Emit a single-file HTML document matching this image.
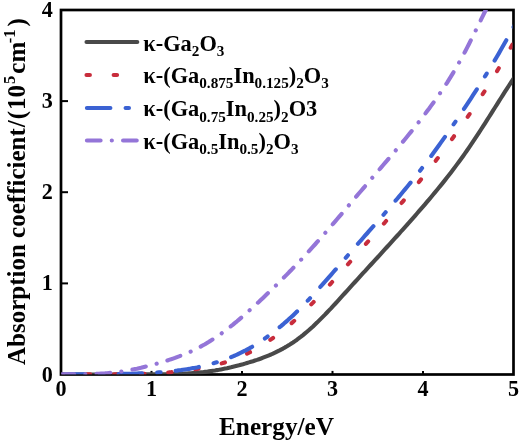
<!DOCTYPE html>
<html><head><meta charset="utf-8"><title>Absorption coefficient</title>
<style>
html,body{margin:0;padding:0;background:#fff;}
svg{display:block;font-family:"Liberation Serif",serif;font-weight:bold;fill:#000;}
.c{fill:none;stroke-width:4.1;stroke-linecap:round;stroke-linejoin:round;}
.g{stroke:#494949;}
.r{stroke:#c82d3c;stroke-dasharray:3.4 23.754;stroke-dashoffset:1.34;}
.b{stroke:#3b62d3;stroke-dasharray:23.5 15.18 3.4 15.17;stroke-dashoffset:-0.34;}
.p{stroke:#9475d8;stroke-dasharray:13.7 11.17 0.1 11.18;stroke-dashoffset:0.56;}
.lg path{stroke-dashoffset:0;}
.s{font-size:15.2px;}
.u{font-size:16.5px;}
</style></head><body>
<svg width="520" height="443" viewBox="0 0 520 443">
<rect width="520" height="443" fill="#fff"/>
<defs><clipPath id="cp"><rect x="61.4" y="10.0" width="451.1" height="364.3"/></clipPath></defs>
<rect x="61.0" y="10.0" width="452.5" height="364.5" fill="none" stroke="#000" stroke-width="2.7"/>
<g stroke="#000" stroke-width="2"><line x1="151.5" y1="374.5" x2="151.5" y2="370.9"/><line x1="242.0" y1="374.5" x2="242.0" y2="370.9"/><line x1="332.5" y1="374.5" x2="332.5" y2="370.9"/><line x1="423.0" y1="374.5" x2="423.0" y2="370.9"/><line x1="61.0" y1="283.4" x2="68.0" y2="283.4"/><line x1="61.0" y1="192.2" x2="68.0" y2="192.2"/><line x1="61.0" y1="101.1" x2="68.0" y2="101.1"/></g>
<g clip-path="url(#cp)">
<path class="c g" d="M61.0,374.5 L63.0,374.5 L65.0,374.5 L67.0,374.5 L69.0,374.5 L71.0,374.5 L73.0,374.5 L75.0,374.5 L77.0,374.5 L79.0,374.5 L81.0,374.5 L83.0,374.5 L85.0,374.5 L87.0,374.5 L89.0,374.5 L91.0,374.5 L93.0,374.5 L95.0,374.5 L97.0,374.5 L99.0,374.5 L101.0,374.5 L103.0,374.5 L105.0,374.5 L107.0,374.5 L109.0,374.5 L111.0,374.5 L113.0,374.5 L115.0,374.5 L117.0,374.4 L119.0,374.4 L121.0,374.4 L123.0,374.4 L125.0,374.4 L127.0,374.4 L129.0,374.4 L131.0,374.4 L133.0,374.3 L135.0,374.3 L137.0,374.3 L139.0,374.3 L141.0,374.3 L143.0,374.3 L145.0,374.3 L147.0,374.3 L149.0,374.3 L151.0,374.3 L153.0,374.2 L155.0,374.2 L157.0,374.2 L159.0,374.2 L161.0,374.2 L163.0,374.2 L165.0,374.2 L167.0,374.2 L169.0,374.1 L171.0,374.1 L173.0,374.0 L175.0,374.0 L177.0,373.9 L179.0,373.9 L181.0,373.8 L183.0,373.7 L185.0,373.6 L187.0,373.5 L189.0,373.4 L191.0,373.3 L193.0,373.1 L195.0,373.0 L197.0,372.8 L199.0,372.6 L201.0,372.4 L203.0,372.2 L205.0,371.9 L207.0,371.7 L209.0,371.4 L211.0,371.1 L213.0,370.8 L215.0,370.5 L217.0,370.1 L219.0,369.8 L221.0,369.4 L223.0,369.0 L225.0,368.6 L227.0,368.2 L229.0,367.7 L231.0,367.3 L233.0,366.8 L235.0,366.3 L237.0,365.8 L239.0,365.3 L241.0,364.7 L243.0,364.2 L245.0,363.6 L247.0,363.0 L249.0,362.4 L251.0,361.8 L253.0,361.2 L255.0,360.5 L257.0,359.9 L259.0,359.2 L261.0,358.5 L263.0,357.7 L265.0,356.9 L267.0,356.1 L269.0,355.3 L271.0,354.5 L273.0,353.6 L275.0,352.7 L277.0,351.7 L279.0,350.7 L281.0,349.6 L283.0,348.6 L285.0,347.4 L287.0,346.3 L289.0,345.1 L291.0,343.8 L293.0,342.5 L295.0,341.1 L297.0,339.7 L299.0,338.2 L301.0,336.7 L303.0,335.1 L305.0,333.4 L307.0,331.7 L309.0,330.0 L311.0,328.2 L313.0,326.4 L315.0,324.5 L317.0,322.6 L319.0,320.6 L321.0,318.6 L323.0,316.6 L325.0,314.6 L327.0,312.5 L329.0,310.4 L331.0,308.3 L333.0,306.1 L335.0,304.0 L337.0,301.8 L339.0,299.6 L341.0,297.4 L343.0,295.2 L345.0,293.0 L347.0,290.8 L349.0,288.6 L351.0,286.4 L353.0,284.2 L355.0,282.0 L357.0,279.8 L359.0,277.6 L361.0,275.4 L363.0,273.2 L365.0,271.1 L367.0,268.9 L369.0,266.7 L371.0,264.5 L373.0,262.3 L375.0,260.1 L377.0,258.0 L379.0,255.8 L381.0,253.6 L383.0,251.4 L385.0,249.2 L387.0,247.0 L389.0,244.8 L391.0,242.6 L393.0,240.4 L395.0,238.2 L397.0,236.0 L399.0,233.8 L401.0,231.5 L403.0,229.3 L405.0,227.1 L407.0,224.8 L409.0,222.6 L411.0,220.3 L413.0,218.1 L415.0,215.8 L417.0,213.5 L419.0,211.2 L421.0,208.9 L423.0,206.6 L425.0,204.3 L427.0,201.9 L429.0,199.6 L431.0,197.2 L433.0,194.8 L435.0,192.4 L437.0,190.0 L439.0,187.5 L441.0,185.1 L443.0,182.6 L445.0,180.1 L447.0,177.5 L449.0,175.0 L451.0,172.4 L453.0,169.8 L455.0,167.1 L457.0,164.4 L459.0,161.7 L461.0,159.0 L463.0,156.2 L465.0,153.4 L467.0,150.5 L469.0,147.6 L471.0,144.7 L473.0,141.7 L475.0,138.7 L477.0,135.7 L479.0,132.6 L481.0,129.5 L483.0,126.4 L485.0,123.3 L487.0,120.1 L489.0,117.0 L491.0,113.8 L493.0,110.6 L495.0,107.5 L497.0,104.3 L499.0,101.1 L501.0,98.0 L503.0,94.8 L505.0,91.7 L507.0,88.6 L509.0,85.5 L511.0,82.5 L513.0,79.5 L515.0,76.5 L517.0,73.6 L519.0,70.6"/>
<path class="c r" d="M61.0,374.5 L63.0,374.5 L65.0,374.5 L67.0,374.5 L69.0,374.5 L71.0,374.4 L73.0,374.4 L75.0,374.4 L77.0,374.4 L79.0,374.4 L81.0,374.4 L83.0,374.4 L85.0,374.4 L87.0,374.4 L89.0,374.4 L91.0,374.4 L93.0,374.4 L95.0,374.4 L97.0,374.4 L99.0,374.4 L101.0,374.4 L103.0,374.4 L105.0,374.4 L107.0,374.4 L109.0,374.4 L111.0,374.4 L113.0,374.4 L115.0,374.4 L117.0,374.4 L119.0,374.3 L121.0,374.3 L123.0,374.3 L125.0,374.3 L127.0,374.2 L129.0,374.2 L131.0,374.2 L133.0,374.1 L135.0,374.1 L137.0,374.0 L139.0,374.0 L141.0,373.9 L143.0,373.9 L145.0,373.8 L147.0,373.7 L149.0,373.6 L151.0,373.5 L153.0,373.4 L155.0,373.3 L157.0,373.2 L159.0,373.1 L161.0,373.0 L163.0,372.8 L165.0,372.7 L167.0,372.5 L169.0,372.4 L171.0,372.2 L173.0,372.0 L175.0,371.8 L177.0,371.6 L179.0,371.4 L181.0,371.2 L183.0,370.9 L185.0,370.7 L187.0,370.4 L189.0,370.2 L191.0,369.9 L193.0,369.6 L195.0,369.2 L197.0,368.9 L199.0,368.6 L201.0,368.2 L203.0,367.8 L205.0,367.4 L207.0,367.0 L209.0,366.6 L211.0,366.1 L213.0,365.7 L215.0,365.2 L217.0,364.7 L219.0,364.1 L221.0,363.6 L223.0,363.0 L225.0,362.4 L227.0,361.7 L229.0,361.1 L231.0,360.4 L233.0,359.7 L235.0,358.9 L237.0,358.1 L239.0,357.3 L241.0,356.5 L243.0,355.6 L245.0,354.7 L247.0,353.7 L249.0,352.7 L251.0,351.7 L253.0,350.6 L255.0,349.5 L257.0,348.4 L259.0,347.2 L261.0,346.0 L263.0,344.7 L265.0,343.5 L267.0,342.1 L269.0,340.8 L271.0,339.4 L273.0,338.0 L275.0,336.5 L277.0,335.0 L279.0,333.5 L281.0,331.9 L283.0,330.3 L285.0,328.7 L287.0,327.0 L289.0,325.3 L291.0,323.6 L293.0,321.9 L295.0,320.1 L297.0,318.2 L299.0,316.4 L301.0,314.5 L303.0,312.6 L305.0,310.6 L307.0,308.7 L309.0,306.7 L311.0,304.6 L313.0,302.6 L315.0,300.5 L317.0,298.4 L319.0,296.3 L321.0,294.2 L323.0,292.0 L325.0,289.8 L327.0,287.7 L329.0,285.5 L331.0,283.3 L333.0,281.0 L335.0,278.8 L337.0,276.6 L339.0,274.3 L341.0,272.1 L343.0,269.8 L345.0,267.6 L347.0,265.3 L349.0,263.1 L351.0,260.8 L353.0,258.5 L355.0,256.3 L357.0,254.0 L359.0,251.8 L361.0,249.5 L363.0,247.3 L365.0,245.0 L367.0,242.7 L369.0,240.5 L371.0,238.2 L373.0,236.0 L375.0,233.7 L377.0,231.4 L379.0,229.1 L381.0,226.8 L383.0,224.5 L385.0,222.3 L387.0,219.9 L389.0,217.6 L391.0,215.3 L393.0,213.0 L395.0,210.7 L397.0,208.3 L399.0,206.0 L401.0,203.6 L403.0,201.3 L405.0,198.9 L407.0,196.5 L409.0,194.1 L411.0,191.7 L413.0,189.3 L415.0,186.8 L417.0,184.4 L419.0,181.9 L421.0,179.4 L423.0,177.0 L425.0,174.4 L427.0,171.9 L429.0,169.4 L431.0,166.9 L433.0,164.3 L435.0,161.7 L437.0,159.1 L439.0,156.5 L441.0,153.9 L443.0,151.2 L445.0,148.5 L447.0,145.8 L449.0,143.1 L451.0,140.4 L453.0,137.7 L455.0,134.9 L457.0,132.1 L459.0,129.3 L461.0,126.5 L463.0,123.6 L465.0,120.7 L467.0,117.8 L469.0,114.9 L471.0,112.0 L473.0,109.0 L475.0,106.0 L477.0,103.0 L479.0,99.9 L481.0,96.8 L483.0,93.7 L485.0,90.6 L487.0,87.5 L489.0,84.3 L491.0,81.1 L493.0,77.8 L495.0,74.5 L497.0,71.2 L499.0,67.9 L501.0,64.5 L503.0,61.1 L505.0,57.7 L507.0,54.2 L509.0,50.7 L511.0,47.2 L513.0,43.6 L515.0,40.0 L517.0,36.4 L519.0,32.7"/>
<path class="c b" d="M61.0,374.5 L63.0,374.5 L65.0,374.5 L67.0,374.5 L69.0,374.4 L71.0,374.4 L73.0,374.4 L75.0,374.4 L77.0,374.4 L79.0,374.4 L81.0,374.4 L83.0,374.4 L85.0,374.4 L87.0,374.3 L89.0,374.3 L91.0,374.3 L93.0,374.3 L95.0,374.3 L97.0,374.3 L99.0,374.3 L101.0,374.3 L103.0,374.2 L105.0,374.2 L107.0,374.2 L109.0,374.2 L111.0,374.2 L113.0,374.1 L115.0,374.1 L117.0,374.1 L119.0,374.0 L121.0,374.0 L123.0,373.9 L125.0,373.9 L127.0,373.8 L129.0,373.8 L131.0,373.7 L133.0,373.7 L135.0,373.6 L137.0,373.5 L139.0,373.4 L141.0,373.4 L143.0,373.3 L145.0,373.2 L147.0,373.1 L149.0,373.0 L151.0,372.9 L153.0,372.7 L155.0,372.6 L157.0,372.5 L159.0,372.3 L161.0,372.2 L163.0,372.0 L165.0,371.9 L167.0,371.7 L169.0,371.5 L171.0,371.3 L173.0,371.1 L175.0,370.8 L177.0,370.6 L179.0,370.3 L181.0,370.1 L183.0,369.8 L185.0,369.5 L187.0,369.2 L189.0,368.9 L191.0,368.5 L193.0,368.1 L195.0,367.8 L197.0,367.4 L199.0,366.9 L201.0,366.5 L203.0,366.1 L205.0,365.6 L207.0,365.1 L209.0,364.6 L211.0,364.0 L213.0,363.4 L215.0,362.8 L217.0,362.2 L219.0,361.6 L221.0,360.9 L223.0,360.2 L225.0,359.5 L227.0,358.8 L229.0,358.0 L231.0,357.2 L233.0,356.3 L235.0,355.5 L237.0,354.6 L239.0,353.6 L241.0,352.7 L243.0,351.7 L245.0,350.7 L247.0,349.6 L249.0,348.5 L251.0,347.4 L253.0,346.2 L255.0,345.0 L257.0,343.7 L259.0,342.5 L261.0,341.1 L263.0,339.8 L265.0,338.4 L267.0,337.0 L269.0,335.5 L271.0,334.0 L273.0,332.5 L275.0,331.0 L277.0,329.4 L279.0,327.7 L281.0,326.1 L283.0,324.4 L285.0,322.6 L287.0,320.9 L289.0,319.1 L291.0,317.3 L293.0,315.4 L295.0,313.5 L297.0,311.6 L299.0,309.6 L301.0,307.6 L303.0,305.6 L305.0,303.5 L307.0,301.4 L309.0,299.3 L311.0,297.2 L313.0,295.0 L315.0,292.9 L317.0,290.7 L319.0,288.4 L321.0,286.2 L323.0,283.9 L325.0,281.7 L327.0,279.4 L329.0,277.1 L331.0,274.8 L333.0,272.5 L335.0,270.2 L337.0,267.9 L339.0,265.6 L341.0,263.2 L343.0,260.9 L345.0,258.6 L347.0,256.3 L349.0,254.0 L351.0,251.7 L353.0,249.4 L355.0,247.1 L357.0,244.8 L359.0,242.5 L361.0,240.3 L363.0,238.0 L365.0,235.7 L367.0,233.5 L369.0,231.2 L371.0,228.9 L373.0,226.7 L375.0,224.4 L377.0,222.1 L379.0,219.8 L381.0,217.5 L383.0,215.3 L385.0,213.0 L387.0,210.7 L389.0,208.3 L391.0,206.0 L393.0,203.7 L395.0,201.3 L397.0,199.0 L399.0,196.6 L401.0,194.2 L403.0,191.8 L405.0,189.4 L407.0,187.0 L409.0,184.5 L411.0,182.1 L413.0,179.6 L415.0,177.1 L417.0,174.5 L419.0,172.0 L421.0,169.4 L423.0,166.8 L425.0,164.2 L427.0,161.6 L429.0,158.9 L431.0,156.2 L433.0,153.5 L435.0,150.7 L437.0,148.0 L439.0,145.2 L441.0,142.4 L443.0,139.6 L445.0,136.8 L447.0,133.9 L449.0,131.0 L451.0,128.2 L453.0,125.2 L455.0,122.3 L457.0,119.4 L459.0,116.4 L461.0,113.4 L463.0,110.4 L465.0,107.4 L467.0,104.4 L469.0,101.3 L471.0,98.3 L473.0,95.2 L475.0,92.1 L477.0,89.0 L479.0,85.8 L481.0,82.7 L483.0,79.5 L485.0,76.3 L487.0,73.1 L489.0,69.8 L491.0,66.5 L493.0,63.2 L495.0,59.9 L497.0,56.5 L499.0,53.1 L501.0,49.6 L503.0,46.1 L505.0,42.6 L507.0,39.0 L509.0,35.4 L511.0,31.8 L513.0,28.1 L515.0,24.3 L517.0,20.5 L519.0,16.7"/>
<path class="c p" d="M61.0,374.5 L63.0,374.5 L65.0,374.4 L67.0,374.4 L69.0,374.4 L71.0,374.4 L73.0,374.4 L75.0,374.3 L77.0,374.3 L79.0,374.3 L81.0,374.3 L83.0,374.3 L85.0,374.2 L87.0,374.2 L89.0,374.1 L91.0,374.1 L93.0,374.0 L95.0,373.9 L97.0,373.8 L99.0,373.7 L101.0,373.6 L103.0,373.5 L105.0,373.4 L107.0,373.2 L109.0,373.0 L111.0,372.8 L113.0,372.6 L115.0,372.4 L117.0,372.1 L119.0,371.9 L121.0,371.6 L123.0,371.3 L125.0,370.9 L127.0,370.6 L129.0,370.2 L131.0,369.9 L133.0,369.5 L135.0,369.1 L137.0,368.7 L139.0,368.2 L141.0,367.8 L143.0,367.3 L145.0,366.8 L147.0,366.3 L149.0,365.8 L151.0,365.3 L153.0,364.7 L155.0,364.2 L157.0,363.6 L159.0,363.0 L161.0,362.4 L163.0,361.8 L165.0,361.2 L167.0,360.6 L169.0,359.9 L171.0,359.3 L173.0,358.6 L175.0,357.9 L177.0,357.1 L179.0,356.4 L181.0,355.6 L183.0,354.8 L185.0,354.0 L187.0,353.1 L189.0,352.3 L191.0,351.4 L193.0,350.4 L195.0,349.5 L197.0,348.5 L199.0,347.4 L201.0,346.4 L203.0,345.3 L205.0,344.2 L207.0,343.0 L209.0,341.8 L211.0,340.5 L213.0,339.3 L215.0,337.9 L217.0,336.6 L219.0,335.2 L221.0,333.8 L223.0,332.3 L225.0,330.8 L227.0,329.3 L229.0,327.7 L231.0,326.2 L233.0,324.6 L235.0,322.9 L237.0,321.3 L239.0,319.6 L241.0,317.9 L243.0,316.1 L245.0,314.4 L247.0,312.6 L249.0,310.8 L251.0,309.0 L253.0,307.2 L255.0,305.4 L257.0,303.5 L259.0,301.7 L261.0,299.8 L263.0,297.9 L265.0,296.0 L267.0,294.1 L269.0,292.2 L271.0,290.3 L273.0,288.3 L275.0,286.4 L277.0,284.4 L279.0,282.4 L281.0,280.4 L283.0,278.4 L285.0,276.4 L287.0,274.4 L289.0,272.3 L291.0,270.3 L293.0,268.2 L295.0,266.1 L297.0,264.0 L299.0,261.9 L301.0,259.8 L303.0,257.6 L305.0,255.5 L307.0,253.3 L309.0,251.1 L311.0,248.9 L313.0,246.7 L315.0,244.5 L317.0,242.2 L319.0,240.0 L321.0,237.7 L323.0,235.4 L325.0,233.1 L327.0,230.9 L329.0,228.5 L331.0,226.2 L333.0,223.9 L335.0,221.6 L337.0,219.2 L339.0,216.9 L341.0,214.6 L343.0,212.2 L345.0,209.9 L347.0,207.5 L349.0,205.1 L351.0,202.8 L353.0,200.4 L355.0,198.0 L357.0,195.7 L359.0,193.3 L361.0,191.0 L363.0,188.6 L365.0,186.3 L367.0,183.9 L369.0,181.6 L371.0,179.2 L373.0,176.9 L375.0,174.6 L377.0,172.2 L379.0,169.9 L381.0,167.6 L383.0,165.2 L385.0,162.9 L387.0,160.6 L389.0,158.2 L391.0,155.9 L393.0,153.5 L395.0,151.2 L397.0,148.8 L399.0,146.4 L401.0,144.0 L403.0,141.6 L405.0,139.2 L407.0,136.8 L409.0,134.3 L411.0,131.9 L413.0,129.4 L415.0,126.9 L417.0,124.3 L419.0,121.8 L421.0,119.2 L423.0,116.6 L425.0,114.0 L427.0,111.3 L429.0,108.7 L431.0,105.9 L433.0,103.2 L435.0,100.4 L437.0,97.6 L439.0,94.7 L441.0,91.8 L443.0,88.9 L445.0,85.8 L447.0,82.8 L449.0,79.6 L451.0,76.4 L453.0,73.1 L455.0,69.8 L457.0,66.3 L459.0,62.8 L461.0,59.2 L463.0,55.5 L465.0,51.7 L467.0,47.9 L469.0,44.0 L471.0,40.0 L473.0,36.0 L475.0,32.0 L477.0,27.9 L479.0,23.8 L481.0,19.7 L483.0,15.6 L485.0,11.5 L487.0,7.3 L489.0,3.2"/>
</g>
<g font-size="23.8px"><text transform="translate(61.0 396) scale(.93 1)" text-anchor="middle">0</text><text transform="translate(151.5 396) scale(.93 1)" text-anchor="middle">1</text><text transform="translate(242.0 396) scale(.93 1)" text-anchor="middle">2</text><text transform="translate(332.5 396) scale(.93 1)" text-anchor="middle">3</text><text transform="translate(423.0 396) scale(.93 1)" text-anchor="middle">4</text><text transform="translate(513.5 396) scale(.93 1)" text-anchor="middle">5</text><text transform="translate(52.8 381.5) scale(.93 1)" text-anchor="end">0</text><text transform="translate(52.8 290.4) scale(.93 1)" text-anchor="end">1</text><text transform="translate(52.8 199.2) scale(.93 1)" text-anchor="end">2</text><text transform="translate(52.8 108.1) scale(.93 1)" text-anchor="end">3</text><text transform="translate(52.8 17.0) scale(.93 1)" text-anchor="end">4</text></g>
<text x="219" y="435" font-size="25.3px" textLength="115" lengthAdjust="spacingAndGlyphs">Energy/eV</text>
<text transform="translate(25,365) rotate(-90)" font-size="25px">Absorption coefficient<tspan dx="1">/</tspan><tspan dx="1">(</tspan><tspan dx="1">10</tspan><tspan class="u" dx="1" dy="-10.2">5</tspan><tspan dx="2" dy="10.2">cm</tspan><tspan class="u" dx="-1.5" dy="-10.2">-1</tspan><tspan dx="3" dy="10.2">)</tspan></text>
<g class="c lg">
<path class="g" d="M86.5,42H137.3"/>
<path class="r" d="M86.5,75H137.3"/>
<path class="b" d="M86.9,108H137.3"/>
<path class="p" d="M86.9,140.5H137.3"/>
</g>
<g font-size="22.4px">
<text x="143.3" y="50.6">κ-Ga<tspan class="s" dy="5.4">2</tspan><tspan dy="-5.4">O</tspan><tspan class="s" dy="5.4">3</tspan></text>
<text x="143.3" y="83">κ-(Ga<tspan class="s" dy="5.4">0.875</tspan><tspan dy="-5.4">In</tspan><tspan class="s" dy="5.4">0.125</tspan><tspan dy="-5.4">)</tspan><tspan class="s" dy="5.4">2</tspan><tspan dy="-5.4">O</tspan><tspan class="s" dy="5.4">3</tspan></text>
<text x="143.3" y="116.4">κ-(Ga<tspan class="s" dy="5.4">0.75</tspan><tspan dy="-5.4">In</tspan><tspan class="s" dy="5.4">0.25</tspan><tspan dy="-5.4">)</tspan><tspan class="s" dy="5.4">2</tspan><tspan dy="-5.4">O3</tspan></text>
<text x="143.3" y="148.7">κ-(Ga<tspan class="s" dy="5.4">0.5</tspan><tspan dy="-5.4">In</tspan><tspan class="s" dy="5.4">0.5</tspan><tspan dy="-5.4">)</tspan><tspan class="s" dy="5.4">2</tspan><tspan dy="-5.4">O</tspan><tspan class="s" dy="5.4">3</tspan></text>
</g>
</svg>
</body></html>
